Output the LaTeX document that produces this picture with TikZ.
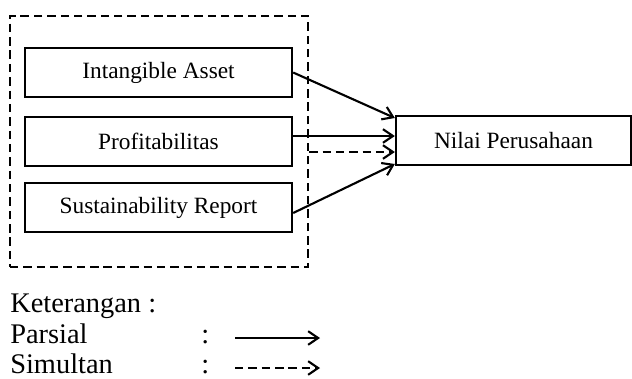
\documentclass[tikz,border=0pt]{standalone}
\usepackage{fontspec}
\setmainfont{Liberation Serif}
\usetikzlibrary{positioning,calc,arrows.meta}

\begin{document}
\begin{tikzpicture}[x=0.025cm, y=-0.025cm,
    varbox/.style={draw, line width=1.6pt, minimum height=1.225cm, font=\fontsize{16.6}{20}\selectfont},
    dash frame/.style={draw, line width=1.6pt, dash pattern=on 6pt off 3.5pt},
    link/.style={line width=1.5pt, -{Straight Barb[length=2.5mm, width=3.4mm]}},
    legend text/.style={anchor=base west, inner sep=0pt, font=\fontsize{20.2}{22}\selectfont}]
    \useasboundingbox (0,0) rectangle (632,378);

    % dashed frame round the independent variables
    \node[dash frame, minimum width=7.45cm, minimum height=6.275cm] (frame) at (159,141.5) {};

    \node[varbox, minimum width=6.675cm] (ia) at (158.5,72.5) {Intangible Asset};
    \node[varbox, minimum width=6.675cm] (pf) at (158.5,141.5) {Profitabilitas};
    \node[varbox, minimum width=6.675cm] (sr) at (158.5,207.5) {Sustainability Report};
    \node[varbox, minimum width=5.875cm] (nilai) at (513.5,140.5) {Nilai Perusahaan};

    \draw[link] (ia.east) -- ($(nilai.west)+(0,-22.5)$);
    \draw[link] ($(pf.east)+(0,-5.5)$) -- ($(nilai.west)+(0,-4.5)$);
    \draw[link, dash pattern=on 6pt off 3.5pt] ($(frame.east)+(0,10.5)$) -- ($(nilai.west)+(0,11.5)$);
    \draw[link] ($(sr.east)+(0,5.5)$) -- ($(nilai.west)+(0,23.5)$);

    % legend
    \node[legend text] (ket) at (10,312) {Keterangan :};
    \node[legend text] (par) at (10,343) {Parsial};
    \node[legend text] (sim) at (10,373) {Simultan};
    \node[legend text] (c1) at (201,343) {:};
    \node[legend text] (c2) at (201,373) {:};
    \coordinate (p1) at (235,338);
    \coordinate (p2) at (320,338);
    \coordinate (s1) at (235,368);
    \coordinate (s2) at (320,368);
    \draw[link] (p1) -- (p2);
    \draw[link, dash pattern=on 6pt off 3.5pt] (s1) -- (s2);
\end{tikzpicture}
\end{document}
